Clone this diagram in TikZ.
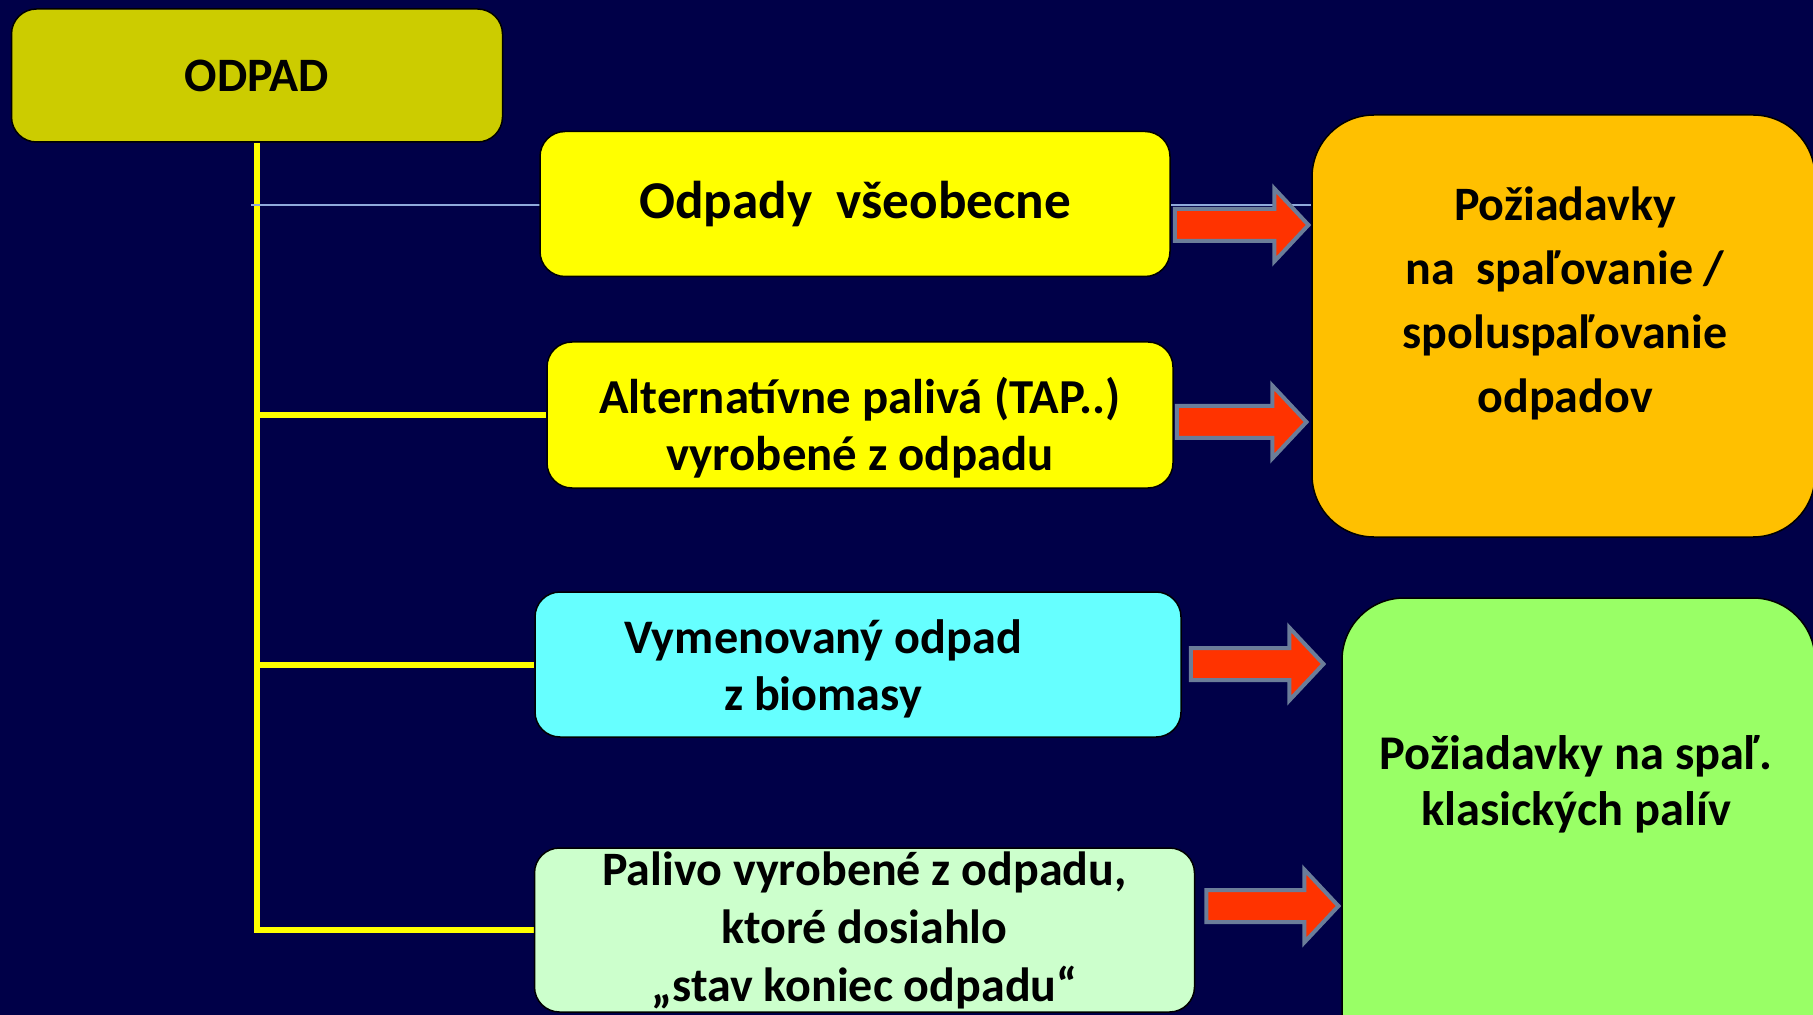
\documentclass[tikz,border=0pt]{standalone}
\usepackage{fontspec}
\setmainfont{Carlito}
\usepackage{tikz}
\usetikzlibrary{calc, backgrounds}

\definecolor{slidebg}{HTML}{000048}
\definecolor{wasteolive}{HTML}{CCCC00}
\definecolor{wasteyellow}{HTML}{FFFF00}
\definecolor{biocyan}{HTML}{66FFFF}
\definecolor{fuelmint}{HTML}{CCFFCC}
\definecolor{reqorange}{HTML}{FFC000}
\definecolor{reqlime}{HTML}{99FF66}
\definecolor{arrowred}{HTML}{FF3300}
\definecolor{arrowedge}{HTML}{6B7D99}
\definecolor{feedblue}{HTML}{8FAADC}

% block arrow: start point, tip point, axis y (px)
\newcommand{\blockarrow}[3]{%
  \draw[blockarr] let \p1=(#1), \p2=(#2), \p3=(0,#3) in
    (\x1,\y3+8pt) -- (\x2-18.5pt,\y3+8pt) -- (\x2-18.5pt,\y3+18.25pt) -- (\x2-1.4pt,\y3)
    -- (\x2-18.5pt,\y3-18.25pt) -- (\x2-18.5pt,\y3-8pt) -- (\x1,\y3-8pt) -- cycle;}

\begin{document}
\begin{tikzpicture}[x=0.5pt, y=-0.5pt,
    box/.style={rectangle, draw=black, line width=0.75pt, rounded corners=12.5pt, inner sep=0pt, align=center},
    bigbox/.style={box, rounded corners=31pt},
    trunk/.style={draw=wasteyellow, line width=3pt},
    feed/.style={draw=feedblue, line width=0.8pt},
    blockarr/.style={fill=arrowred, draw=arrowedge, line width=2pt, line join=miter},
  ]
  \useasboundingbox (0,0) rectangle (1813,1015);

  \node[box, fill=wasteolive, minimum width=245.5pt, minimum height=66.5pt,
        font=\fontsize{24}{28}\selectfont\bfseries] (odpad) at (257,75.5) {ODPAD};
  \node[box, fill=wasteyellow, minimum width=315pt, minimum height=72.5pt,
        font=\fontsize{26.6}{31}\selectfont\bfseries] (b1) at (855,204) {Odpady~ všeobecne};
  \node[box, fill=wasteyellow, minimum width=313pt, minimum height=73pt,
        font=\fontsize{24.4}{28.5}\selectfont\bfseries] (b2) at (860,415) {\rule{0pt}{31pt}Alternatívne palivá (TAP..)\\vyrobené z odpadu};
  \node[box, fill=biocyan, minimum width=323pt, minimum height=72.5pt,
        font=\fontsize{24.1}{28.5}\selectfont\bfseries] (b3) at (858,664.5) {\rule{0pt}{21pt}Vymenovaný odpad\hspace*{35pt}\\z biomasy\hspace*{35pt}};
  \node[box, fill=fuelmint, minimum width=330pt, minimum height=82pt,
        font=\fontsize{24}{29}\selectfont\bfseries] (b4) at (864.5,930) {Palivo vyrobené z odpadu,\\ktoré dosiahlo\\„stav koniec odpadu“};

  \node[bigbox, fill=reqorange, minimum width=251.5pt, minimum height=211pt] (req1) at (1563.5,326) {};
  \node[align=center, font=\fontsize{24}{32}\selectfont\bfseries] (req1txt) at (1565,303)
        {Požiadavky\\na~ spaľovanie /\\spoluspaľovanie\\odpadov};
  \node[bigbox, fill=reqlime, minimum width=236.5pt, minimum height=246pt] (req2) at (1578.5,844) {};
  \node[align=center, font=\fontsize{24.2}{28}\selectfont\bfseries] (req2txt) at (1576,784)
        {Požiadavky na spaľ.\\klasických palív};

  \coordinate (t1) at (251,205);

  \begin{scope}[on background layer]
    \fill[slidebg] (0,0) rectangle (1813,1015);
    \draw[trunk] (odpad.south) -- (odpad.south |- b4.west) -- (b4.west);
    \draw[trunk] (odpad.south |- b2.west) -- (b2.west);
    \draw[trunk] (odpad.south |- b3.west) -- (b3.west);
    \draw[feed] (t1) -- (t1 -| req1.west);
  \end{scope}

  \blockarrow{[xshift=2pt]b1.east}{req1.west}{225}
  \blockarrow{[xshift=1.5pt]b2.east}{[xshift=-1pt]req1.west}{422}
  \blockarrow{[xshift=4.5pt]b3.east}{[xshift=-7.5pt]req2.west}{664}
  \blockarrow{[xshift=5.5pt]b4.east}{req2.west}{906}
\end{tikzpicture}
\end{document}
